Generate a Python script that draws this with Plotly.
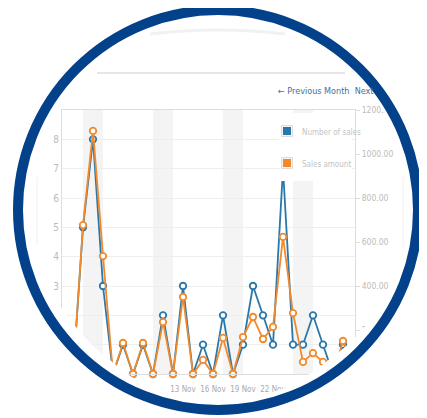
import numpy as np
import plotly.graph_objects as go

# ---------------- data ----------------
dates = [f"2012-11-{d:02d}" for d in range(1, 31)]
number_of_sales = [0, 0, 5, 8, 3, 0, 1, 0, 1, 0, 2, 0, 3, 0, 1, 0, 2, 0, 1, 3, 2, 1, 7, 1, 1, 2, 1, 0, 1, 0]
sales_amount = [0, 0, 677, 1105, 536, 0, 141, 0, 141, 0, 236, 0, 350, 0, 64, 0, 164, 0, 168, 259, 159, 214, 623, 277, 55, 95, 55, 0, 150, 0]
weekend_starts = ["2012-11-03", "2012-11-10", "2012-11-17", "2012-11-24"]
weekend_ends = ["2012-11-05", "2012-11-12", "2012-11-19", "2012-11-26"]
x_tick_dates = ["2012-11-13", "2012-11-16", "2012-11-19", "2012-11-22"]
x_tick_text = ["13 Nov", "16 Nov", "19 Nov", "22 Nov"]
left_ticks = [1, 2, 3, 4, 5, 6, 7, 8]
right_ticks = [200, 400, 600, 800, 1000, 1200]
right_tick_text = ["200.00", "400.00", "600.00", "800.00", "1000.00", "1200.00"]

BLUE = "#2a78ab"
ORANGE = "#f28a2c"
FONT = "Liberation Sans Narrow, Arial Narrow, DejaVu Sans Condensed, Liberation Sans, Arial, sans-serif"

OFF = 8  # page body margin
W, H = 427 - OFF, 418 - OFF
# plot area in screen pixels
PL, PR, PT, PB = 62, 355, 110, 374


def px(X):
    return (X - PL) / (PR - PL)


def py(Y):
    return (PB - Y) / (PB - PT)


fig = go.Figure()
fig.add_trace(go.Scatter(
    x=dates, y=number_of_sales, name="Number of sales", mode="lines+markers",
    line=dict(color=BLUE, width=1.8),
    marker=dict(symbol="circle", size=6.5, color="white", line=dict(color=BLUE, width=1.8)),
    yaxis="y", cliponaxis=False))
fig.add_trace(go.Scatter(
    x=dates, y=sales_amount, name="Sales amount", mode="lines+markers",
    line=dict(color=ORANGE, width=1.8),
    marker=dict(symbol="circle", size=6.5, color="white", line=dict(color=ORANGE, width=1.8)),
    yaxis="y2", cliponaxis=False))

shapes = []
for s, e in zip(weekend_starts, weekend_ends):
    shapes.append(dict(type="rect", xref="x", yref="paper", x0=s, x1=e, y0=0, y1=1,
                       fillcolor="#f4f4f4", line=dict(width=0), layer="below"))

# legend background + swatches
shapes.append(dict(type="rect", xref="paper", yref="paper", x0=px(279), x1=px(352), y0=py(181), y1=py(113),
                   fillcolor="white", line=dict(width=0)))
for cy, col in [(131, BLUE), (163, ORANGE)]:
    shapes.append(dict(type="rect", xref="paper", yref="paper", x0=px(281.5), x1=px(292.5), y0=py(cy + 5.5), y1=py(cy - 5.5),
                       fillcolor="#f4f4f4", line=dict(color="#dddddd", width=1)))
    shapes.append(dict(type="rect", xref="paper", yref="paper", x0=px(283), x1=px(291), y0=py(cy + 4), y1=py(cy - 4),
                       fillcolor=col, line=dict(width=0)))

# decorative page elements
shapes.append(dict(type="line", xref="paper", yref="paper", x0=px(97), x1=px(345), y0=py(73), y1=py(73),
                   line=dict(color="#e6e6e6", width=2)))
shapes.append(dict(type="path", xref="paper", yref="paper",
                   path=f"M {px(150)},{py(34)} Q {px(218)},{py(26)} {px(285)},{py(34)}",
                   line=dict(color="#f1f1f1", width=3)))
shapes.append(dict(type="line", xref="paper", yref="paper", x0=px(37), x1=px(37), y0=py(177), y1=py(245),
                   line=dict(color="#f0f0f0", width=1)))
shapes.append(dict(type="line", xref="paper", yref="paper", x0=px(403), x1=px(403), y0=py(177), y1=py(247),
                   line=dict(color="#f0f0f0", width=1)))

# white mask outside the visible lens
CX, CY = 218, 210
ang_knots = [0, 35, 46, 53, 70, 90, 110, 117, 125, 140, 150, 165, 180]
rad_knots = [193, 188, 187, 186, 190, 191, 190, 188, 185, 184, 185, 190, 193]
angs = np.linspace(0, 360, 181)[:-1]
pts = []
for a in angs:
    r = np.interp(a, ang_knots, rad_knots) if a <= 180 else 193
    X = CX + r * np.cos(np.radians(a))
    Y = CY + r * np.sin(np.radians(a))
    pts.append((px(X), py(Y)))
outer = f"M {px(-10)},{py(-10)} L {px(440)},{py(-10)} L {px(440)},{py(430)} L {px(-10)},{py(430)} Z "
hole = "M " + " L ".join(f"{a:.5f},{b:.5f}" for a, b in pts) + " Z"
shapes.append(dict(type="path", xref="paper", yref="paper", path=outer + hole,
                   fillcolor="white", fillrule="evenodd", line=dict(width=0)))

# navy ring
shapes.append(dict(type="circle", xref="paper", yref="paper",
                   x0=px(CX - 200), x1=px(CX + 200), y0=py(CY + 200), y1=py(CY - 200),
                   line=dict(color="#03418a", width=10), fillcolor="rgba(0,0,0,0)"))

annotations = [
    dict(xref="paper", yref="paper", x=px(300), y=py(132), text="Number of sales", showarrow=False,
         xanchor="left", yanchor="middle", font=dict(family=FONT, size=8, color="#c4c4c4")),
    dict(xref="paper", yref="paper", x=px(300), y=py(164), text="Sales amount", showarrow=False,
         xanchor="left", yanchor="middle", font=dict(family=FONT, size=8, color="#c4c4c4")),
    dict(xref="paper", yref="paper", x=px(276), y=py(91), text="← Previous Month  Next", showarrow=False,
         xanchor="left", yanchor="middle", font=dict(family=FONT, size=9, color="#4a6d9e")),
]

fig.update_layout(
    template="none",
    width=W, height=H,
    margin=dict(l=PL - OFF, r=W - (PR - OFF), t=PT - OFF, b=H - (PB - OFF), pad=0),
    paper_bgcolor="white", plot_bgcolor="white",
    showlegend=False,
    font=dict(family=FONT),
    xaxis=dict(type="date", range=["2012-10-31 21:36", "2012-11-30 04:48"],
               tickvals=x_tick_dates, ticktext=x_tick_text, tickangle=0,
               showgrid=False, zeroline=False, showline=True, linecolor="#dddddd", linewidth=1, mirror=True,
               ticks="outside", ticklen=7, tickcolor="rgba(0,0,0,0)",
               tickfont=dict(family=FONT, size=8, color="#aaaaaa"), automargin=False),
    yaxis=dict(range=[0, 9], tickvals=left_ticks, showgrid=True, gridcolor="#eeeeee", gridwidth=1,
               zeroline=False, showline=True, linecolor="#dddddd", linewidth=1,
               ticks="", tickfont=dict(family=FONT, size=10, color="#bbbbbb"), automargin=False),
    yaxis2=dict(range=[0, 1200], overlaying="y", side="right", tickvals=right_ticks, ticktext=right_tick_text,
                showgrid=False, zeroline=False, showline=True, linecolor="#dddddd", linewidth=1,
                ticks="outside", ticklen=4, tickcolor="#dddddd",
                tickfont=dict(family=FONT, size=8.5, color="#bbbbbb"), automargin=False),
    shapes=shapes,
    annotations=annotations,
)

fig.write_html("out.html")
